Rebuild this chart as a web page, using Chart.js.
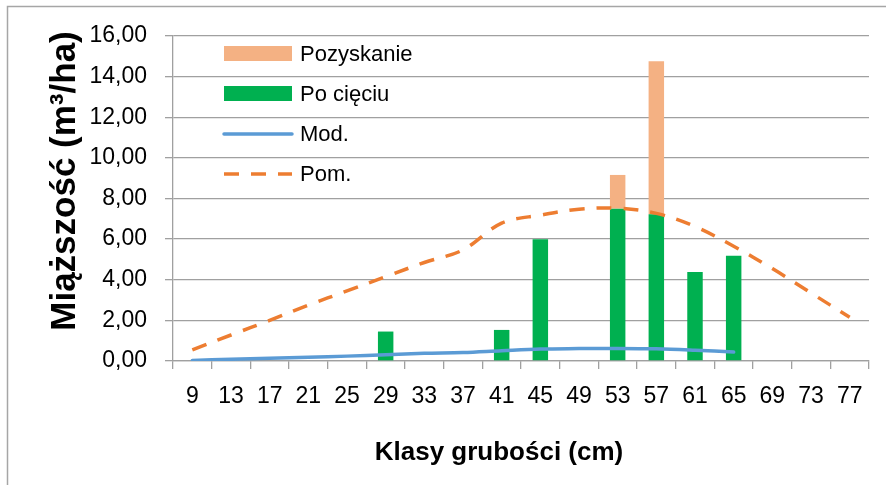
<!DOCTYPE html>
<html>
<head>
<meta charset="utf-8">
<script src="https://cdn.jsdelivr.net/npm/chart.js@4"></script>
<style>
  html, body { margin: 0; padding: 0; background: #fff; }
  #wrap { width: 886px; height: 485px; position: relative; }
</style>
</head>
<body>
<div id="wrap"><canvas id="c"></canvas></div>
<script>
const categories = ['9','13','17','21','25','29','33','37','41','45','49','53','57','61','65','69','73','77'];
const poCieciu   = [null,null,null,null,null,1.45,null,null,1.53,6.00,null,7.50,7.22,4.38,5.18,null,null,null];
const pozyskanie = [null,null,null,null,null,null,null,null,null,null,null,1.66,7.54,null,null,null,null,null];
const modValues  = [0.03,0.09,0.14,0.19,0.24,0.31,0.38,0.42,0.51,0.59,0.61,0.62,0.60,0.53,0.44,null,null,null];
const pomValues  = [0.55,1.28,2.00,2.75,3.45,4.15,4.85,5.47,6.79,7.18,7.47,7.52,7.27,6.62,5.65,4.55,3.35,2.15];
const yTitle = 'Miąższość (m³/ha)';
const xTitle = 'Klasy grubości (cm)';

const FONT = "'Liberation Sans', Arial, sans-serif";
const GRID = '#a0a0a0';

const decorPlugin = {
  id: 'decor',
  beforeDraw(chart) {
    const ctx = chart.ctx;
    ctx.save();
    ctx.fillStyle = '#fff';
    ctx.fillRect(0, 0, chart.width, chart.height);
    ctx.strokeStyle = '#a6a6a6';
    ctx.lineWidth = 1.5;
    ctx.beginPath();
    ctx.moveTo(7.5, chart.height);
    ctx.lineTo(7.5, 6.5);
    ctx.lineTo(chart.width, 6.5);
    ctx.stroke();
    ctx.restore();
  },
  afterDraw(chart) {
    const ctx = chart.ctx;
    ctx.save();
    ctx.fillStyle = '#000';
    ctx.font = "bold 26px " + FONT;
    ctx.textAlign = 'center';
    ctx.textBaseline = 'alphabetic';
    ctx.fillText(xTitle, 499, 460);
    ctx.save();
    ctx.translate(75, 181);
    ctx.rotate(-Math.PI / 2);
    ctx.font = "bold 35px " + FONT;
    ctx.fillText(yTitle, 0, 0);
    ctx.restore();
    const ds = chart.data.datasets;
    const items = ['Pozyskanie', 'Po cięciu', 'Mod.', 'Pom.'].map(l => ds.find(d => d.label === l));
    const rows = [53.5, 93.5, 134, 174];
    ctx.font = "22px " + FONT;
    ctx.textAlign = 'left';
    ctx.textBaseline = 'middle';
    items.forEach((d, i) => {
      const y = rows[i];
      if (d.type === 'bar') {
        ctx.fillStyle = d.backgroundColor;
        ctx.fillRect(224, y - 7.5, 68, 15);
      } else {
        ctx.strokeStyle = d.borderColor;
        ctx.lineWidth = d.borderWidth;
        ctx.lineCap = d.borderDash ? 'butt' : 'round';
        ctx.setLineDash(d.borderDash || []);
        ctx.beginPath();
        ctx.moveTo(224, y);
        ctx.lineTo(292, y);
        ctx.stroke();
        ctx.setLineDash([]);
      }
      ctx.fillStyle = '#000';
      ctx.fillText(d.label, 300, y + 1);
    });
    ctx.restore();
  }
};

new Chart(document.getElementById('c'), {
  data: {
    labels: categories,
    datasets: [
      { type: 'line', label: 'Mod.', data: modValues, borderColor: '#5B9BD5', borderWidth: 3.5,
        pointRadius: 0, tension: 0.35, order: 1, stack: 'mod', borderCapStyle: 'round' },
      { type: 'line', label: 'Pom.', data: pomValues, borderColor: '#ED7D31', borderWidth: 3.5,
        borderDash: [15, 12], pointRadius: 0, tension: 0.35, order: 1, stack: 'pom' },
      { type: 'bar', label: 'Po cięciu', data: poCieciu, backgroundColor: '#00B050', order: 2,
        stack: 'bars', barPercentage: 0.4, categoryPercentage: 1 },
      { type: 'bar', label: 'Pozyskanie', data: pozyskanie, backgroundColor: '#F4B183', order: 2,
        stack: 'bars', barPercentage: 0.4, categoryPercentage: 1 }
    ]
  },
  options: {
    responsive: true,
    maintainAspectRatio: false,
    animation: false,
    layout: { padding: { left: 0, right: 17, top: 36, bottom: 0 } },
    plugins: { legend: { display: false }, tooltip: { enabled: false } },
    scales: {
      x: {
        type: 'category',
        stacked: true,
        offset: true,
        grid: { display: true, drawOnChartArea: false, offset: true, tickLength: 8, color: GRID, lineWidth: 1.3 },
        border: { display: true, color: GRID, width: 1.3 },
        ticks: { color: '#000', font: { family: FONT, size: 23 }, padding: 14, maxRotation: 0, autoSkip: false },
        afterFit(scale) { scale.height = 124; }
      },
      y: {
        stacked: true,
        min: 0, max: 16,
        grid: { color: GRID, lineWidth: 1.3, tickLength: 8 },
        border: { display: true, color: GRID, width: 1.3 },
        ticks: { stepSize: 2, color: '#000', font: { family: FONT, size: 23 }, padding: 18,
          callback: v => v.toFixed(2).replace('.', ',') },
        afterFit(scale) { scale.width = 173; }
      }
    }
  },
  plugins: [decorPlugin]
});
</script>
</body>
</html>
